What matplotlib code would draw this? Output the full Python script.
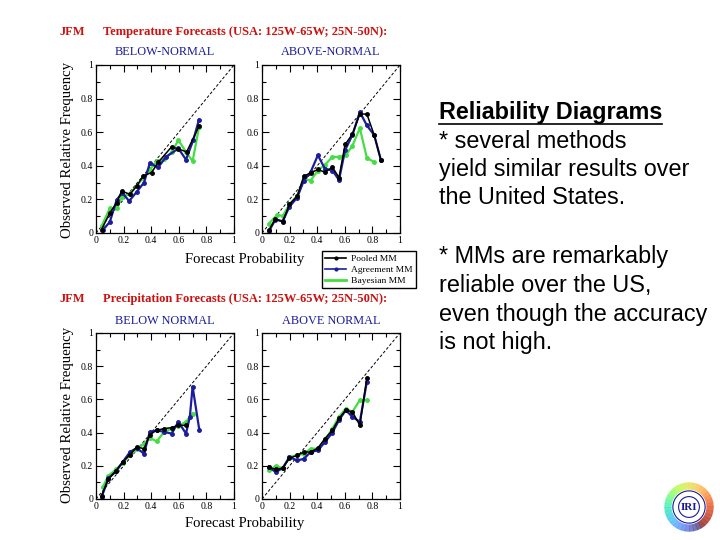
import matplotlib.pyplot as plt
from matplotlib.lines import Line2D
from matplotlib.patches import Wedge, Circle

# ---- data ----
# temperature, below-normal
t_bn_pool_x = [0.04, 0.10, 0.15, 0.186, 0.246, 0.295, 0.343, 0.403, 0.45, 0.548, 0.597, 0.657, 0.746]
t_bn_pool_y = [0.02, 0.12, 0.18, 0.25, 0.23, 0.28, 0.34, 0.36, 0.42, 0.513, 0.50, 0.483, 0.634]
t_bn_agr_x = [0.048, 0.10, 0.15, 0.19, 0.24, 0.295, 0.348, 0.39, 0.45, 0.507, 0.597, 0.652, 0.705, 0.746]
t_bn_agr_y = [0.016, 0.066, 0.197, 0.24, 0.19, 0.245, 0.30, 0.416, 0.39, 0.453, 0.503, 0.437, 0.553, 0.674]
t_bn_bay_x = [0.04, 0.10, 0.15, 0.19, 0.246, 0.295, 0.343, 0.39, 0.44, 0.49, 0.548, 0.597, 0.652, 0.70, 0.746]
t_bn_bay_y = [0.04, 0.147, 0.15, 0.215, 0.235, 0.28, 0.33, 0.376, 0.427, 0.44, 0.48, 0.553, 0.483, 0.427, 0.628]

# temperature, above-normal
t_an_pool_x = [0.05, 0.097, 0.15, 0.199, 0.255, 0.303, 0.352, 0.405, 0.456, 0.51, 0.558, 0.602, 0.655, 0.709, 0.76, 0.813, 0.862]
t_an_pool_y = [0.016, 0.085, 0.066, 0.171, 0.22, 0.338, 0.358, 0.378, 0.362, 0.392, 0.33, 0.527, 0.588, 0.708, 0.708, 0.583, 0.433]
t_an_agr_x = [0.05, 0.097, 0.15, 0.199, 0.255, 0.303, 0.352, 0.405, 0.456, 0.51, 0.558, 0.602, 0.655, 0.709, 0.76, 0.813, 0.862]
t_an_agr_y = [0.01, 0.08, 0.07, 0.157, 0.211, 0.312, 0.362, 0.463, 0.382, 0.372, 0.316, 0.493, 0.583, 0.72, 0.64, 0.583, 0.433]
t_an_bay_x = [0.05, 0.112, 0.15, 0.199, 0.255, 0.303, 0.352, 0.405, 0.456, 0.51, 0.558, 0.607, 0.655, 0.709, 0.76, 0.813]
t_an_bay_y = [0.056, 0.11, 0.10, 0.171, 0.221, 0.322, 0.312, 0.372, 0.406, 0.453, 0.453, 0.463, 0.519, 0.624, 0.447, 0.422]

# precipitation, below normal
p_bn_pool_x = [0.04, 0.09, 0.145, 0.193, 0.246, 0.295, 0.348, 0.39, 0.44, 0.493, 0.548, 0.597, 0.652]
p_bn_pool_y = [0.02, 0.12, 0.17, 0.222, 0.267, 0.313, 0.303, 0.388, 0.414, 0.424, 0.43, 0.444, 0.444]
p_bn_agr_x = [0.04, 0.09, 0.145, 0.193, 0.246, 0.295, 0.348, 0.39, 0.44, 0.493, 0.548, 0.597, 0.652, 0.68, 0.70, 0.749]
p_bn_agr_y = [0.01, 0.125, 0.166, 0.222, 0.283, 0.307, 0.273, 0.404, 0.414, 0.404, 0.394, 0.465, 0.394, 0.495, 0.677, 0.414]
p_bn_bay_x = [0.048, 0.09, 0.145, 0.193, 0.246, 0.295, 0.348, 0.39, 0.44, 0.493, 0.548, 0.597, 0.652, 0.70]
p_bn_bay_y = [0.07, 0.141, 0.178, 0.218, 0.263, 0.299, 0.333, 0.368, 0.347, 0.404, 0.424, 0.44, 0.465, 0.515]

# precipitation, above normal
p_an_pool_x = [0.049, 0.10, 0.15, 0.199, 0.255, 0.303, 0.352, 0.405, 0.456, 0.51, 0.558, 0.607, 0.655, 0.709, 0.76]
p_an_pool_y = [0.192, 0.178, 0.186, 0.246, 0.263, 0.283, 0.283, 0.307, 0.364, 0.414, 0.485, 0.535, 0.525, 0.444, 0.731]
p_an_agr_x = [0.049, 0.10, 0.15, 0.199, 0.255, 0.303, 0.352, 0.405, 0.456, 0.51, 0.558, 0.607, 0.655, 0.709, 0.76]
p_an_agr_y = [0.192, 0.162, 0.186, 0.253, 0.232, 0.242, 0.283, 0.293, 0.343, 0.40, 0.475, 0.535, 0.495, 0.465, 0.707]
p_an_bay_x = [0.049, 0.10, 0.15, 0.199, 0.255, 0.303, 0.352, 0.405, 0.456, 0.51, 0.558, 0.607, 0.655, 0.709, 0.76]
p_an_bay_y = [0.172, 0.198, 0.186, 0.253, 0.263, 0.273, 0.303, 0.303, 0.354, 0.424, 0.495, 0.545, 0.525, 0.596, 0.596]

methods = ["Pooled MM", "Agreement MM", "Bayesian MM"]
colors = ["black", "#1c1c9c", "#44dd44"]
ticks = [0, 0.2, 0.4, 0.6, 0.8, 1]
tick_labels = ["0", "0.2", "0.4", "0.6", "0.8", "1"]

serif = "Liberation Serif"
red = "#cc1111"
navy = "#1a1a9a"

fig = plt.figure(figsize=(7.2, 5.4), dpi=100)
W, H = 720, 540


def px_axes(x0, y0, x1, y1):
    # axes placed by pixel box (top-left origin)
    return fig.add_axes([x0 / W, 1 - y1 / H, (x1 - x0) / W, (y1 - y0) / H])


def panel(ax, series):
    ax.plot([0, 1], [0, 1], color="black", lw=0.7, ls=(0, (3, 2)))
    # draw green first so blue and black sit on top like the original
    for (x, y), c in zip(series[::-1], colors[::-1]):
        ax.plot(x, y, color=c, lw=1.6 if c != "black" else 1.1,
                marker="o", ms=2.5, mec=c, mfc=c)
    ax.set_xlim(0, 1)
    ax.set_ylim(0, 1)
    ax.set_xticks(ticks)
    ax.set_yticks(ticks)
    ax.set_xticklabels(tick_labels, family=serif, fontsize=7)
    ax.set_yticklabels(tick_labels, family=serif, fontsize=7)
    ax.set_xticks([0.1, 0.3, 0.5, 0.7, 0.9], minor=True)
    ax.set_yticks([0.1, 0.3, 0.5, 0.7, 0.9], minor=True)
    ax.tick_params(which="both", direction="in", top=True, right=True, width=0.8)
    ax.tick_params(which="major", length=5, pad=2)
    ax.tick_params(which="minor", length=3)
    for s in ax.spines.values():
        s.set_linewidth(0.9)


ax1 = px_axes(96, 65, 234, 233)
panel(ax1, [(t_bn_pool_x, t_bn_pool_y), (t_bn_agr_x, t_bn_agr_y), (t_bn_bay_x, t_bn_bay_y)])
ax2 = px_axes(262, 65, 400, 233)
panel(ax2, [(t_an_pool_x, t_an_pool_y), (t_an_agr_x, t_an_agr_y), (t_an_bay_x, t_an_bay_y)])
ax3 = px_axes(96, 333, 234, 499)
panel(ax3, [(p_bn_pool_x, p_bn_pool_y), (p_bn_agr_x, p_bn_agr_y), (p_bn_bay_x, p_bn_bay_y)])
ax4 = px_axes(262, 333, 400, 499)
panel(ax4, [(p_an_pool_x, p_an_pool_y), (p_an_agr_x, p_an_agr_y), (p_an_bay_x, p_an_bay_y)])


def ftext(x, y, s, **kw):
    fig.text(x / W, 1 - y / H, s, **kw)


# titles
for yy, title in [(32, "Temperature Forecasts (USA: 125W-65W; 25N-50N):"),
                  (299, "Precipitation Forecasts (USA: 125W-65W; 25N-50N):")]:
    ftext(60, yy, "JFM", family=serif, weight="bold", color=red, fontsize=9, va="center")
    ftext(103, yy, title, family=serif, weight="bold", color=red, fontsize=9, va="center")

ftext(165, 52, "BELOW-NORMAL", family=serif, color=navy, fontsize=8.8, ha="center", va="center")
ftext(331, 52, "ABOVE-NORMAL", family=serif, color=navy, fontsize=8.8, ha="center", va="center")
ftext(165, 321, "BELOW NORMAL", family=serif, color=navy, fontsize=8.8, ha="center", va="center")
ftext(331, 321, "ABOVE NORMAL", family=serif, color=navy, fontsize=8.8, ha="center", va="center")

# axis labels
for yc in (150, 415):
    ftext(67, yc, "Observed Relative Frequency", family=serif, fontsize=10.6,
          rotation=90, ha="center", va="center")
for yc in (259, 523):
    ftext(245, yc, "Forecast Probability", family=serif, fontsize=10.6,
          ha="center", va="center")

# legend
handles = [Line2D([], [], color=c, lw=1.2, marker="o", ms=2) for c in colors]
handles[2] = Line2D([], [], color=colors[2], lw=2)
fig.legend(handles, methods, loc="upper left", bbox_to_anchor=(322 / W, 1 - 251 / H),
           frameon=True, fancybox=False, edgecolor="black", framealpha=1,
           prop={"family": serif, "size": 6.8}, handlelength=2.2,
           borderpad=0.35, labelspacing=0.25, handletextpad=0.5, borderaxespad=0)

# right-hand text
fs = 16.8
sans = "Liberation Sans"
head = fig.text(439 / W, 1 - 113 / H, "Reliability Diagrams", family=sans, weight="bold",
                fontsize=fs, va="center")
lines1 = ["* several methods", "yield similar results over", "the United States."]
for i, s in enumerate(lines1):
    ftext(439, 141 + 28.5 * i, s, family=sans, fontsize=fs, va="center")
lines2 = ["* MMs are remarkably", "reliable over the US,", "even though the accuracy", "is not high."]
for i, s in enumerate(lines2):
    ftext(439, 257 + 28.5 * i, s, family=sans, fontsize=fs, va="center")

fig.canvas.draw()
bb = head.get_window_extent()
fig.add_artist(Line2D([bb.x0 / W, bb.x1 / W], [(bb.y0 + 1) / H, (bb.y0 + 1) / H],
                      color="black", lw=1.2))

# IRI logo
lax = fig.add_axes([663 / W, 1 - 533 / H, 52 / W, 52 / H])
lax.set_xlim(-1, 1)
lax.set_ylim(-1, 1)
lax.set_aspect("equal")
lax.axis("off")
cmap = plt.get_cmap("turbo")
n = 36
for i in range(n):
    a0 = 360 * i / n
    # warm on the left, cool on the upper right
    t = ((a0 + 60) % 360) / 360
    lax.add_patch(Wedge((0, 0), 0.95, a0, a0 + 360 / n + 1, width=0.28,
                        color=cmap(1 - t), alpha=0.7, lw=0))
lax.add_patch(Circle((0, 0), 0.62, fc="white", ec=navy, lw=0.8))
lax.add_patch(Circle((0, 0), 0.4, fc="white", ec=navy, lw=0.8))
lax.text(0, 0, "IRI", family=serif, weight="bold", color=navy, fontsize=8,
         ha="center", va="center")

fig.savefig("out.png", dpi=100)
